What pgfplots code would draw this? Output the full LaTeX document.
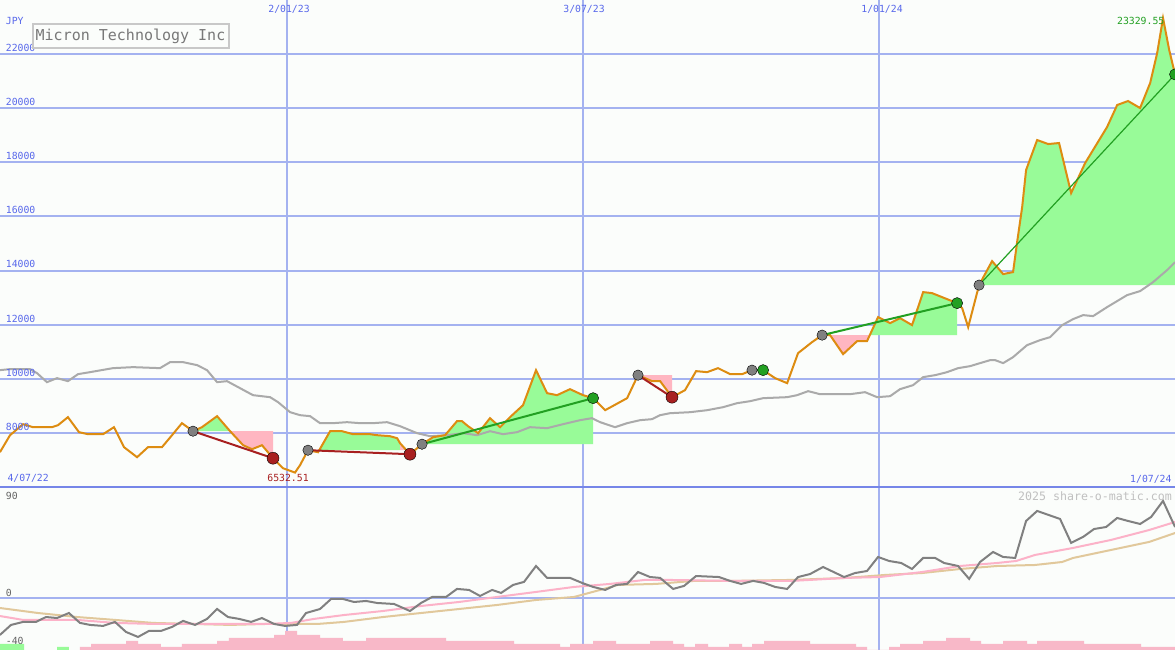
\documentclass[border=0pt]{standalone}
\usepackage{pgfplots}
\pgfplotsset{compat=1.18}
\usepackage{fontspec}
\setmainfont{DejaVu Sans Mono}

\definecolor{bgc}{RGB}{251,253,251}
\definecolor{gridblue}{RGB}{164,178,240}
\definecolor{sepblue}{RGB}{118,134,232}
\definecolor{lblblue}{RGB}{88,104,235}
\definecolor{priceor}{RGB}{221,140,17}
\definecolor{magray}{RGB}{170,170,170}
\definecolor{upfill}{RGB}{152,251,152}
\definecolor{dnfill}{RGB}{255,182,193}
\definecolor{mkgray}{RGB}{128,128,128}
\definecolor{mkred}{RGB}{168,32,32}
\definecolor{mkgreen}{RGB}{34,160,34}
\definecolor{txtgray}{RGB}{100,100,100}
\definecolor{lopink}{RGB}{252,178,200}
\definecolor{lotan}{RGB}{225,200,155}
\definecolor{barpink}{RGB}{248,184,200}

\newcommand\lbl{\fontsize{9.8}{10}\selectfont}

\begin{document}
\begin{tikzpicture}

% price panel
\begin{axis}[
  at={(0pt,163pt)}, anchor=south west,
  width=1175pt, height=487pt, scale only axis,
  xmin=5.53, xmax=728, ymin=6000, ymax=24000,
  axis line style={draw=none}, tick style={draw=none},
  xtick=\empty,
  ytick={8000,10000,...,22000}, yticklabels={},
  ymajorgrids, grid style={gridblue, line width=2pt},
  axis background/.style={fill=bgc},
]
% date lines
\addplot[gridblue, line width=1.2pt] coordinates {(182,6000) (182,24000)};
\addplot[gridblue, line width=2pt] coordinates {(364,6000) (364,24000)};
\addplot[gridblue, line width=1.2pt] coordinates {(546,6000) (546,24000)};

% trade areas
\addplot[fill=upfill, draw=none] coordinates {(124.2,8063) (129.7,8211) (139.0,8618) (147.0,8063)};
\addplot[fill=dnfill, draw=none] coordinates {(147.0,8063) (155.0,7545) (160.5,7397) (166.6,7545) (173.4,7064) (173.4,8063)};
\addplot[fill=dnfill, draw=none] coordinates {(194.9,7360) (201.1,7286) (201.8,7360)};
\addplot[fill=upfill, draw=none] coordinates {(201.8,7360) (208.5,8063) (215.8,8063) (222.6,7952) (233.0,7952) (237.3,7915) (245.3,7878) (249.7,7804) (251.5,7619) (251.5,7360)};
\addplot[fill=dnfill, draw=none] coordinates {(251.5,7360) (251.5,7619) (257.6,7212) (257.6,7360)};
\addplot[fill=upfill, draw=none] coordinates {(265.0,7582) (271.8,7841) (279.2,7915) (286.5,8433) (289.6,8433) (293.3,8248) (299.5,7989) (306.8,8544) (313.0,8211) (319.1,8581) (327.1,9024) (335.1,10319) (341.9,9468) (348.0,9394) (356.0,9616) (364.0,9394) (370.2,9283) (370.2,7582)};
\addplot[fill=dnfill, draw=none] coordinates {(397.8,10134) (406.4,9912) (411.4,9912) (418.7,9320) (418.7,10134)};
\addplot[fill=dnfill, draw=none] coordinates {(515.9,11613) (523.9,10910) (532.5,11391) (538.6,11391) (540.3,11613)};
\addplot[fill=upfill, draw=none] coordinates {(540.3,11613) (545.4,12279) (552.8,12057) (558.9,12242) (566.3,11983) (573.1,13203) (578.6,13166) (594.0,12796) (594.0,11613)};
\addplot[fill=upfill, draw=none] coordinates {(607.5,13462) (615.5,14349) (622.3,13869) (628.4,13943) (630.9,15052) (634.0,16346) (636.4,17715) (643.2,18824) (650.0,18676) (656.7,18713) (664.1,16864) (672.7,17973) (686.2,19305) (692.4,20118) (699.1,20266) (706.5,20007) (712.7,20932) (717.0,22040) (720.6,23329.55) (724.4,22152) (728.0,21250) (728.0,13462)};

% moving average
\addplot[magray, line width=2pt] coordinates {
(5.5,10319) (11.7,10356) (24.0,10356) (28.3,10208) (34.4,9875) (40.6,10023)
(47.3,9912) (53.5,10171) (60.9,10245) (75.0,10393) (87.3,10430) (103.9,10393)
(110.1,10614) (118.1,10614) (126.7,10504) (132.8,10319) (139.0,9875) (145.1,9912)
(153.1,9653) (161.1,9394) (171.6,9320) (176.5,9135) (183.9,8765) (190.0,8655)
(196.2,8618) (202.3,8359) (210.3,8359) (218.9,8396) (226.9,8359) (234.9,8359)
(243.5,8396) (251.5,8248) (262.0,7989) (269.9,7878) (280.4,7915) (290.2,7989)
(298.8,7915) (306.8,8063) (314.8,7952) (323.4,8026) (331.4,8211) (341.9,8174)
(351.7,8322) (362.2,8470) (369.5,8544) (374.5,8396) (383.7,8211) (391.1,8359)
(399.1,8470) (406.4,8507) (411.4,8655) (417.5,8728) (429.8,8765) (440.3,8839)
(450.1,8950) (458.7,9098) (466.7,9172) (474.7,9283) (489.5,9320) (495.6,9394)
(502.4,9542) (509.7,9431) (515.9,9431) (528.2,9431) (537.4,9505) (544.8,9320)
(552.8,9357) (558.9,9616) (566.9,9764) (573.1,10060) (580.5,10134) (587.8,10245)
(594.6,10393) (602.0,10467) (608.1,10578) (614.3,10688) (617.4,10688) (622.3,10578)
(628.4,10799) (637.0,11243) (645.0,11428) (651.2,11539) (658.6,11983) (665.3,12205)
(671.5,12353) (677.6,12316) (686.2,12648) (698.5,13092) (706.5,13240) (714.5,13573)
(723.1,14017) (728.0,14312)
};

% price
\addplot[priceor, line width=2pt] coordinates {
(5.5,7286) (11.7,7915) (19.7,8322) (25.8,8211) (37.5,8211) (41.2,8285) (47.3,8581)
(54.1,8026) (59.6,7952) (68.9,7952) (75.6,8211) (81.8,7471) (89.8,7101) (96.5,7471)
(105.1,7471) (111.3,7915) (117.4,8359) (124.2,8063) (129.7,8211) (139.0,8618)
(147.0,8063) (155.0,7545) (160.5,7397) (166.6,7545) (173.4,7064) (179.5,6695)
(186.9,6532.51) (190.0,6806) (194.9,7360) (201.1,7286) (208.5,8063) (215.8,8063)
(222.6,7952) (233.0,7952) (237.3,7915) (245.3,7878) (249.7,7804) (251.5,7619)
(257.6,7212) (265.0,7582) (271.8,7841) (279.2,7915) (286.5,8433) (289.6,8433)
(293.3,8248) (299.5,7989) (306.8,8544) (313.0,8211) (319.1,8581) (327.1,9024)
(335.1,10319) (341.9,9468) (348.0,9394) (356.0,9616) (364.0,9394) (370.2,9283)
(377.6,8839) (391.1,9283) (397.8,10134) (406.4,9912) (411.4,9912) (418.7,9320)
(426.7,9579) (433.5,10282) (440.3,10245) (447.0,10393) (454.4,10171) (461.8,10171)
(467.9,10319) (474.7,10319) (482.1,10023) (489.5,9838) (496.2,10947) (504.8,11354)
(511.0,11613) (515.9,11613) (523.9,10910) (532.5,11391) (538.6,11391) (545.4,12279)
(552.8,12057) (558.9,12242) (566.3,11983) (573.1,13203) (578.6,13166) (594.0,12796)
(597.1,12612) (600.8,11909) (607.5,13462) (615.5,14349) (622.3,13869) (628.4,13943)
(630.9,15052) (634.0,16346) (636.4,17715) (643.2,18824) (650.0,18676) (656.7,18713)
(664.1,16864) (672.7,17973) (686.2,19305) (692.4,20118) (699.1,20266) (706.5,20007)
(712.7,20932) (717.0,22040) (720.6,23329.55) (724.4,22152) (728.0,21250)
};

% trade lines
\addplot[mkred, line width=2pt] coordinates {(124.2,8063) (173.4,7064)};
\addplot[mkred, line width=2pt] coordinates {(194.9,7360) (257.6,7212)};
\addplot[mkred, line width=2pt] coordinates {(397.8,10134) (418.7,9320)};
\addplot[mkgreen, line width=2pt] coordinates {(265.0,7582) (370.2,9283)};
\addplot[mkgreen, line width=2pt] coordinates {(467.9,10319) (474.7,10319)};
\addplot[mkgreen, line width=2pt] coordinates {(511.0,11613) (594.0,12796)};
\addplot[mkgreen, line width=1.2pt] coordinates {(607.5,13462) (728.0,21250)};

% entry / exit markers
\addplot[only marks, mark=*, mark size=5.2pt, mark options={fill=mkgray, draw=none}] coordinates {
(124.2,8063) (194.9,7360) (265.0,7582) (397.8,10134) (467.9,10319) (511.0,11613) (607.5,13462)};
\addplot[only marks, mark=*, mark size=6pt, mark options={fill=mkred, draw=none}] coordinates {
(173.4,7064) (257.6,7212) (418.7,9320)};
\addplot[only marks, mark=*, mark size=5.6pt, mark options={fill=mkgreen, draw=none}] coordinates {
(370.2,9283) (474.7,10319) (594.0,12796) (728.0,21250)};
\end{axis}

% indicator panel
\begin{axis}[
  at={(0pt,0pt)}, anchor=south west,
  width=1175pt, height=163pt, scale only axis,
  xmin=5.53, xmax=728, ymin=-41.5, ymax=88.5,
  axis line style={draw=none}, tick style={draw=none},
  xtick=\empty, ytick={0}, yticklabels={},
  ymajorgrids, grid style={gridblue, line width=2pt},
  axis background/.style={fill=bgc},
]
\addplot[gridblue, line width=1.2pt] coordinates {(182,-41.5) (182,88.5)};
\addplot[gridblue, line width=2pt] coordinates {(364,-41.5) (364,88.5)};
\addplot[gridblue, line width=1.2pt] coordinates {(546,-41.5) (546,88.5)};

% histogram
\addplot[const plot, fill=upfill, draw=none] coordinates {(5.5,-41.5) (5.5,-36.7) (20.3,-41.5)};
\addplot[const plot, fill=upfill, draw=none] coordinates {(40.6,-41.5) (40.6,-39.1) (47.9,-41.5)};
\addplot[const plot, fill=barpink, draw=none] coordinates {
(54.7,-41.5) (54.7,-39.1) (61.5,-36.7) (83.0,-34.3) (90.4,-36.7) (104.5,-39.1)
(117.4,-36.7) (139.0,-34.3) (146.3,-31.9) (174.0,-29.5) (180.8,-26.3) (188.2,-29.5)
(202.3,-31.9) (216.4,-34.3) (230.6,-31.9) (279.8,-34.3) (321.6,-36.7) (349.9,-39.1)
(356.0,-36.7) (370.2,-34.3) (384.3,-36.7) (405.2,-34.3) (419.4,-36.7) (426.1,-39.1)
(432.9,-36.7) (440.9,-39.1) (453.8,-36.7) (461.8,-39.1) (467.9,-36.7) (475.3,-34.3)
(503.6,-36.7) (531.9,-39.1) (538.6,-41.5) (552.2,-39.1) (558.9,-36.7) (573.1,-34.3)
(587.2,-31.9) (602.0,-34.3) (608.7,-36.7) (622.3,-34.3) (637.0,-36.7) (643.2,-34.3)
(672.1,-36.7) (707.1,-39.1) (728,-39.1) (728,-41.5)
};

\addplot[lotan, line width=2pt] coordinates {
(5.5,-8.0) (28.9,-12.0) (52.9,-15.2) (76.2,-17.5) (99.6,-19.9) (123.0,-20.7)
(147.0,-21.5) (170.3,-20.7) (201.1,-20.7) (217.1,-19.1) (241.0,-15.2) (264.4,-12.0)
(287.8,-8.8) (311.1,-5.6) (335.1,-1.6) (358.5,0.8) (374.5,6.4) (385.5,10.4)
(408.9,11.2) (432.3,13.6) (455.6,13.6) (492.5,14.4) (525.7,16.0) (549.1,18.3)
(572.5,19.9) (595.8,23.1) (618.6,25.5) (641.9,26.3) (658.6,28.7) (665.3,31.9)
(688.7,38.3) (712.1,44.7) (728.0,51.8)
};
\addplot[lopink, line width=2pt] coordinates {
(5.5,-14.4) (19.7,-17.5) (52.9,-17.5) (76.2,-19.9) (99.6,-20.7) (147.0,-20.7)
(170.3,-20.7) (184.5,-19.9) (198.6,-16.7) (217.1,-13.6) (241.0,-10.4) (264.4,-6.4)
(287.8,-3.2) (311.1,0.8) (335.1,4.8) (358.5,8.8) (380.6,11.2) (402.1,14.4)
(415.7,14.4) (455.6,13.6) (492.5,13.6) (525.7,16.0) (546.6,16.7) (572.5,20.7)
(595.8,25.5) (618.6,27.9) (630.3,29.5) (641.9,34.3) (665.3,39.9) (688.7,46.3)
(712.1,54.2) (728.0,60.6)
};
\addplot[mkgray, line width=2pt] coordinates {
(5.5,-29.5) (12.3,-21.5) (19.7,-19.1) (27.7,-19.1) (33.8,-15.2) (40.6,-16.0)
(47.9,-12.0) (54.7,-19.9) (60.9,-21.5) (68.9,-22.3) (76.2,-19.1) (83.0,-27.1)
(90.4,-31.1) (97.1,-26.3) (104.5,-26.3) (111.3,-23.1) (118.1,-18.3) (125.4,-21.5)
(132.8,-16.7) (139.0,-8.8) (145.7,-15.2) (152.5,-16.7) (159.9,-19.1) (166.6,-16.0)
(174.0,-20.7) (180.8,-22.3) (188.2,-21.5) (193.7,-12.0) (202.3,-8.8) (209.1,-0.8)
(216.4,-0.8) (223.2,-3.2) (230.6,-2.4) (237.4,-4.0) (247.8,-4.8) (257.6,-10.4)
(264.4,-4.0) (271.2,0.8) (279.8,0.8) (286.5,7.2) (293.9,6.4) (300.7,1.6)
(308.1,6.4) (313.6,4.0) (321.0,10.4) (327.7,12.8) (335.1,25.5) (341.9,16.0)
(356.0,16.0) (363.4,12.0) (370.2,8.8) (377.6,6.4) (384.3,10.4) (391.1,11.2)
(397.8,20.7) (405.2,16.7) (411.4,16.0) (419.4,7.2) (426.1,9.6) (433.5,17.5)
(447.6,16.7) (454.4,13.6) (461.2,11.2) (468.6,13.6) (475.3,12.0) (482.1,8.8)
(489.5,7.2) (496.2,16.7) (503.6,19.1) (511.6,24.7) (524.5,16.7) (531.3,19.9)
(538.6,21.5) (545.4,32.7) (552.2,29.5) (559.6,27.9) (566.3,23.1) (573.1,31.9)
(580.5,31.9) (586.0,27.9) (594.6,25.5) (601.4,15.2) (608.1,28.7) (616.1,36.7)
(622.3,32.7) (629.7,31.9) (636.4,61.4) (643.2,69.4) (657.3,63.0) (664.1,43.9)
(671.5,48.7) (678.2,55.0) (685.6,56.6) (692.4,63.8) (699.1,61.4) (706.5,59.0)
(713.3,64.6) (720.6,77.4) (728.0,56.6)
};
\end{axis}

% panel separator
\draw[sepblue, line width=2.5pt] (0pt,163pt) -- (1175pt,163pt);

% labels
\begin{scope}[every node/.style={inner sep=0pt, font=\lbl}]
\node[anchor=west, text=lblblue] at (5.7pt,629pt) {JPY};
\node[anchor=west, text=lblblue] at (5.7pt,602.0pt) {22000};
\node[anchor=west, text=lblblue] at (5.7pt,547.9pt) {20000};
\node[anchor=west, text=lblblue] at (5.7pt,493.8pt) {18000};
\node[anchor=west, text=lblblue] at (5.7pt,439.7pt) {16000};
\node[anchor=west, text=lblblue] at (5.7pt,385.6pt) {14000};
\node[anchor=west, text=lblblue] at (5.7pt,331.4pt) {12000};
\node[anchor=west, text=lblblue] at (5.7pt,277.3pt) {10000};
\node[anchor=west, text=lblblue] at (5.7pt,223.2pt) {8000};
\node[text=lblblue] at (289pt,641pt) {2/01/23};
\node[text=lblblue] at (584pt,641pt) {3/07/23};
\node[text=lblblue] at (882pt,641pt) {1/01/24};
\node[anchor=west, text=lblblue] at (7.3pt,171.7pt) {4/07/22};
\node[anchor=east, text=lblblue] at (1171.7pt,170.7pt) {1/07/24};
\node[text=mkred] at (288pt,172pt) {6532.51};
\node[anchor=east, text=mkgreen] at (1164.5pt,629pt) {23329.55};
\node[anchor=west, text=txtgray] at (5.7pt,154pt) {90};
\node[anchor=west, text=txtgray] at (5.7pt,56.7pt) {0};
\node[anchor=west, text=txtgray] at (5.7pt,9pt) {-40};
\node[anchor=east, text={rgb,255:red,192;green,192;blue,192}, font=\fontsize{11.6}{12}\selectfont] at (1172pt,154pt) {2025 share-o-matic.com};
\end{scope}

% title box
\node[draw={rgb,255:red,200;green,200;blue,200}, line width=2pt, fill=bgc,
  text={rgb,255:red,120;green,120;blue,120}, font=\fontsize{15}{16}\selectfont,
  minimum width=196pt, minimum height=24pt, inner sep=0pt] at (130.5pt,613.7pt) {Micron Technology Inc};

\pgfresetboundingbox
\path (0pt,0pt) rectangle (1175pt,650pt);
\end{tikzpicture}
\end{document}
